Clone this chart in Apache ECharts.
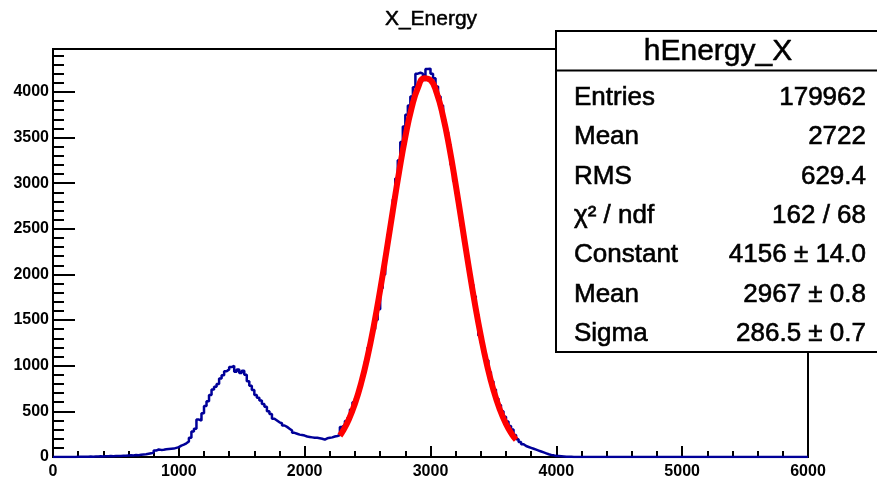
<!DOCTYPE html>
<html>
<head>
<meta charset="utf-8">
<script src="https://cdn.jsdelivr.net/npm/echarts@6/dist/echarts.min.js"></script>
<style>
  html, body { margin: 0; padding: 0; background: #fff; }
  #chart { width: 877px; height: 482px; }
</style>
</head>
<body>
<div id="chart"></div>
<script>
// histogram hEnergy_X, 20-wide bins starting at 0
var binWidth = 20;
var counts = [
  0, 0, 0, 0, 0,   0, 0, 1, 0, 2,   3, 2, 4, 3, 5,   4, 6, 5, 7, 6,
  8, 7, 10, 9, 11,   12, 11, 14, 13, 16,   18, 17, 21, 20, 24,   28, 30, 35, 40, 48,
  70, 82, 78, 80, 85,   88, 90, 92, 100, 108,   125, 135, 150, 170, 210,   280, 310, 410, 400, 480,
  560, 610, 680, 740, 770,   800, 860, 896, 940, 960,   985, 1000, 935, 960, 920,   945, 900, 830, 780, 735,
  680, 650, 620, 580, 550,   500, 470, 420, 400, 380,   370, 345, 330, 310, 290,   265, 255, 245, 240, 235,
  225, 220, 215, 210, 210,   205, 200, 190, 205, 210,   215, 225, 230, 240, 330,   350, 395, 430, 520, 600,
  640, 720, 810, 920, 1050,   1200, 1290, 1400, 1500, 1620,   1850, 2000, 2230, 2440, 2600,   2820, 3050, 3250, 3450, 3620,
  3750, 3850, 3950, 4050, 4200,   4210, 4200, 4130, 4250, 4255,   4200, 4150, 4060, 3950, 3850,   3690, 3560, 3420, 3200, 3020,
  2900, 2720, 2530, 2350, 2200,   2060, 1890, 1760, 1560, 1330,   1250, 1130, 1060, 930, 830,   740, 640, 570, 500, 440,
  390, 340, 300, 240, 195,   165, 140, 120, 110, 100,   90, 80, 70, 60, 50,   40, 30, 22, 18, 12,
  10, 8, 6, 4, 3,   2, 1, 1, 0, 1
];

// gaus fit curve
var fitX = [2280, 2300, 2350, 2400, 2450, 2500, 2550, 2600, 2650, 2700, 2750, 2800, 2850, 2900, 2950,
            3000, 3050, 3100, 3150, 3200, 3250, 3300, 3350, 3400, 3450, 3500, 3550, 3600, 3650, 3680];
var fitY = [234, 276, 409, 586, 816, 1101, 1441, 1830, 2253, 2692, 3120, 3507, 3823, 4044, 4149,
            4129, 3985, 3731, 3389, 2986, 2552, 2115, 1701, 1327, 1003, 736, 524, 362, 242, 188];

var statLabels = ['Entries', 'Mean', 'RMS', 'χ² / ndf', 'Constant', 'Mean', 'Sigma'];
var statValues = ['179962', '2722', '629.4', '162 / 68', '4156 ± 14.0', '2967 ± 0.8', '286.5 ± 0.7'];

var histData = [];
for (var i = 0; i < counts.length; i++) {
  histData.push([i * binWidth, counts[i]]);
}
histData.push([counts.length * binWidth, 0]);
histData.push([6000, 0]);

var fitData = fitX.map(function (x, i) { return [x, fitY[i]]; });

var font = '"Liberation Sans", Arial, sans-serif';

var graphics = [
  {
    type: 'text', x: 431, y: 19, z: 10,
    style: { text: 'X_Energy', font: '21px ' + font, fill: '#000', stroke: '#000', lineWidth: 0.5,
             align: 'center', verticalAlign: 'middle' }
  },
  {
    type: 'rect', z: 10,
    shape: { x: 556, y: 31, width: 330, height: 321 },
    style: { fill: '#fff', stroke: '#000', lineWidth: 2 }
  },
  {
    type: 'line', z: 11,
    shape: { x1: 556, y1: 70.5, x2: 886, y2: 70.5 },
    style: { stroke: '#000', lineWidth: 2 }
  },
  {
    type: 'text', x: 718, y: 52, z: 11,
    style: { text: 'hEnergy_X', font: '30px ' + font, fill: '#000', stroke: '#000', lineWidth: 0.5,
             align: 'center', verticalAlign: 'middle' }
  }
];
statLabels.forEach(function (lab, i) {
  var y = 98 + i * 39.3;
  graphics.push({
    type: 'text', x: 574, y: y, z: 11,
    style: { text: lab, font: '26px ' + font, fill: '#000', stroke: '#000', lineWidth: 0.6,
             align: 'left', verticalAlign: 'middle' }
  });
  graphics.push({
    type: 'text', x: 866, y: y, z: 11,
    style: { text: statValues[i], font: '26px ' + font, fill: '#000', stroke: '#000', lineWidth: 0.6,
             align: 'right', verticalAlign: 'middle' }
  });
});

var plainNum = function (v) { return String(v); };

var chart = echarts.init(document.getElementById('chart'), null, { renderer: 'canvas' });
chart.setOption({
  animation: false,
  backgroundColor: '#fff',
  grid: {
    left: 53, right: 69, top: 49, bottom: 25,
    show: true, borderColor: '#000', borderWidth: 2, backgroundColor: 'transparent'
  },
  xAxis: {
    type: 'value', min: 0, max: 6000, interval: 1000,
    axisLine: { lineStyle: { color: '#000', width: 2 } },
    axisTick: { inside: true, length: 11, lineStyle: { color: '#000', width: 2 } },
    minorTick: { show: true, splitNumber: 5, length: 6, lineStyle: { color: '#000', width: 2 } },
    splitLine: { show: false },
    axisLabel: { color: '#000', fontFamily: 'Liberation Sans', fontWeight: 'bold', fontSize: 16, margin: 7,
                 formatter: plainNum }
  },
  yAxis: {
    type: 'value', min: 0, max: 4470, interval: 500,
    axisLine: { lineStyle: { color: '#000', width: 2 } },
    axisTick: { inside: true, length: 22, lineStyle: { color: '#000', width: 2 } },
    minorTick: { show: true, splitNumber: 5, length: 11, lineStyle: { color: '#000', width: 2 } },
    splitLine: { show: false },
    axisLabel: {
      color: '#000', fontFamily: 'Liberation Sans', fontWeight: 'bold', fontSize: 16, margin: 4,
      showMaxLabel: false, formatter: plainNum
    }
  },
  series: [
    {
      type: 'line', step: 'end', data: histData, showSymbol: false,
      lineStyle: { color: '#000099', width: 2.5 }, z: 2
    },
    {
      type: 'line', smooth: true, data: fitData, showSymbol: false,
      lineStyle: { color: '#ff0000', width: 6 }, z: 3
    }
  ],
  graphic: graphics
});
</script>
</body>
</html>
